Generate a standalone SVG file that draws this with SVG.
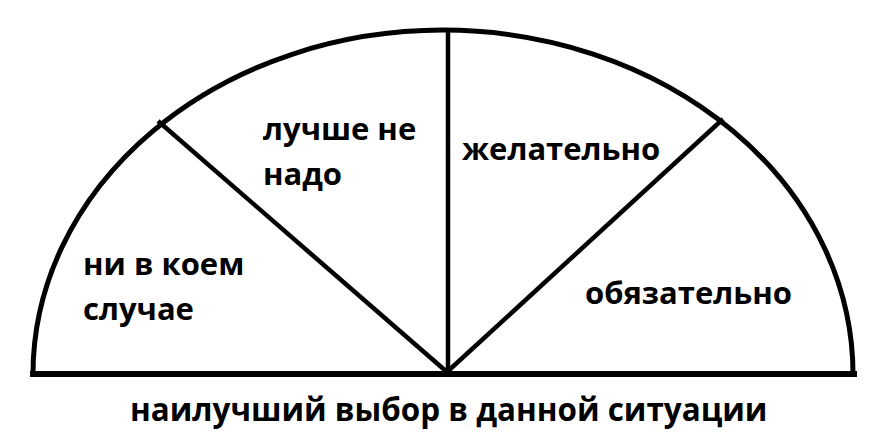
<svg xmlns="http://www.w3.org/2000/svg" width="888" height="435" viewBox="0 0 888 435">
<style>
.ln{fill:none;stroke:#000;stroke-linecap:butt}
.t{font-family:"Open Sans","Noto Sans","DejaVu Sans",sans-serif;font-weight:bold;font-size:31px;fill:#000}
</style>
<rect width="888" height="435" fill="#fff"/>
<g id="shape">
<path class="ln" d="M 33 374 A 410 344 0 0 1 853 374" stroke-width="5"/>
<path class="ln" d="M 30 374 H 857" stroke-width="6"/>
</g>
<g id="connectors">
<path class="ln" d="M 447 372 L 158 121" stroke-width="4.5"/>
<path class="ln" d="M 448 372 L 448 30" stroke-width="4.5"/>
<path class="ln" d="M 447 372 L 723 119" stroke-width="4.5"/>
</g>
<g id="n1"><text class="t" x="83" y="275">ни в коем</text><text class="t" x="83" y="320">случае</text></g>
<g id="n2"><text class="t" x="263" y="140">лучше не</text><text class="t" x="263" y="185">надо</text></g>
<g id="n3"><text class="t" x="462" y="160">желательно</text></g>
<g id="n4"><text class="t" x="585" y="304">обязательно</text></g>
<g id="caption"><text class="t" x="130" y="421" style="font-size:31.4px">наилучший выбор в данной ситуации</text></g>
</svg>
